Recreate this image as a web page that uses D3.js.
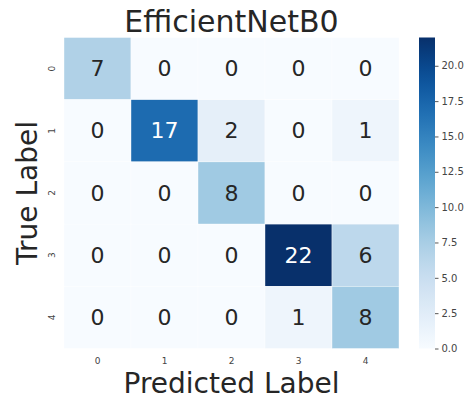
<!DOCTYPE html>
<html>
<head>
<meta charset="utf-8">
<script src="https://cdn.jsdelivr.net/npm/d3@7"></script>
<style>
  html, body { margin: 0; padding: 0; background: #fff; }
  svg { display: block; font-family: "DejaVu Sans", sans-serif; }
</style>
</head>
<body>
<svg id="chart" width="471" height="402"></svg>
<script>
// Confusion matrix for the EfficientNetB0 classifier
const classes = ["0", "1", "2", "3", "4"];
const row0 = [7, 0, 0, 0, 0];
const row1 = [0, 17, 2, 0, 1];
const row2 = [0, 0, 8, 0, 0];
const row3 = [0, 0, 0, 22, 6];
const row4 = [0, 0, 0, 1, 8];
const matrix = [row0, row1, row2, row3, row4];
const colorbarTicks = [0, 2.5, 5, 7.5, 10, 12.5, 15, 17.5, 20];

const svg = d3.select("#chart");
const plot = { left: 64, top: 37.5, width: 335, height: 311 };

const x = d3.scaleBand().domain(classes).range([plot.left, plot.left + plot.width]);
const y = d3.scaleBand().domain(classes).range([plot.top, plot.top + plot.height]);
const vmax = d3.max(matrix.flat());
const color = d3.scaleSequential(d3.interpolateBlues).domain([0, vmax]);

const cells = [];
matrix.forEach((row, i) => row.forEach((v, j) => cells.push({ r: classes[i], c: classes[j], v })));

// heatmap cells
svg.append("g").selectAll("rect").data(cells).join("rect")
  .attr("x", d => x(d.c))
  .attr("y", d => y(d.r))
  .attr("width", x.bandwidth())
  .attr("height", y.bandwidth())
  .attr("fill", d => color(d.v))
  .attr("stroke", "#ffffff")
  .attr("stroke-width", 0.4);

// cell annotations: light text on dark cells
function textColor(v) {
  const c = d3.rgb(color(v));
  const lum = (0.299 * c.r + 0.587 * c.g + 0.114 * c.b) / 255;
  return lum < 0.5 ? "#ffffff" : "#262626";
}
svg.append("g").selectAll("text").data(cells).join("text")
  .attr("x", d => x(d.c) + x.bandwidth() / 2)
  .attr("y", d => y(d.r) + y.bandwidth() / 2)
  .attr("text-anchor", "middle")
  .attr("dominant-baseline", "central")
  .attr("font-size", 22)
  .attr("fill", d => textColor(d.v))
  .text(d => d.v);

// x axis tick labels
const xAxis = d3.axisBottom(x).tickSize(0).tickPadding(0);
const gx = svg.append("g").attr("transform", `translate(0,${plot.top + plot.height + 9})`).call(xAxis);
gx.select(".domain").remove();
gx.selectAll("text").attr("font-size", 9).attr("fill", "#444").attr("font-family", "DejaVu Sans").attr("dy", "0.71em");

// y axis tick labels, rotated
const gy = svg.append("g");
gy.selectAll("text").data(classes).join("text")
  .attr("transform", d => `translate(${plot.left - 12},${y(d) + y.bandwidth() / 2}) rotate(-90)`)
  .attr("text-anchor", "middle")
  .attr("dy", "0.32em")
  .attr("font-size", 9)
  .attr("fill", "#444")
  .text(d => d);

// title and axis titles
svg.append("text")
  .attr("x", plot.left + plot.width / 2).attr("y", 32)
  .attr("text-anchor", "middle").attr("font-size", 30).attr("fill", "#262626")
  .text("EfficientNetB0");
svg.append("text")
  .attr("x", plot.left + plot.width / 2).attr("y", 393)
  .attr("text-anchor", "middle").attr("font-size", 28).attr("fill", "#262626")
  .text("Predicted Label");
svg.append("text")
  .attr("transform", `translate(37,${plot.top + plot.height / 2}) rotate(-90)`)
  .attr("text-anchor", "middle").attr("font-size", 28).attr("fill", "#262626")
  .text("True Label");

// colorbar
const cb = { x: 419, width: 16 };
const cbScale = d3.scaleLinear().domain([0, vmax]).range([plot.top + plot.height, plot.top]);
const defs = svg.append("defs");
const grad = defs.append("linearGradient").attr("id", "cbgrad")
  .attr("x1", 0).attr("y1", 1).attr("x2", 0).attr("y2", 0);
d3.range(0, 1.0001, 0.05).forEach(t => {
  grad.append("stop").attr("offset", t).attr("stop-color", color(t * vmax));
});
svg.append("rect")
  .attr("x", cb.x).attr("y", plot.top)
  .attr("width", cb.width).attr("height", plot.height)
  .attr("fill", "url(#cbgrad)");

const cbAxis = d3.axisRight(cbScale).tickValues(colorbarTicks).tickFormat(d3.format(".1f")).tickSize(3.5).tickPadding(3);
const gcb = svg.append("g").attr("transform", `translate(${cb.x + cb.width},0)`).call(cbAxis);
gcb.select(".domain").remove();
gcb.selectAll("line").attr("stroke", "#444").attr("stroke-width", 0.9);
gcb.selectAll("text").attr("font-size", 10).attr("fill", "#444").attr("font-family", "DejaVu Sans");
</script>
</body>
</html>
